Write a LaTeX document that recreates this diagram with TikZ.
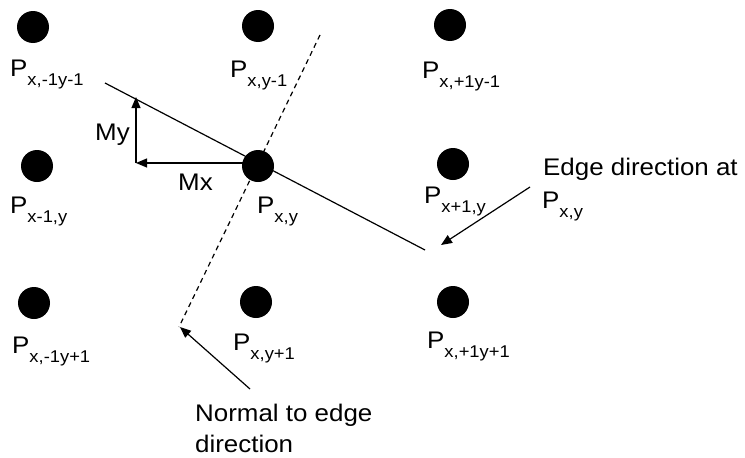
\documentclass[tikz,border=0pt]{standalone}
\usepackage{fontspec}
\setmainfont{Liberation Sans}[FakeStretch=1.08]
\usetikzlibrary{arrows.meta}
\newcommand{\Plab}[1]{P\lower9pt\hbox{\fontsize{17}{17}\selectfont #1}}
\begin{document}
\begin{tikzpicture}[x=1pt,y=-1pt,
  dot/.style={circle,fill=black,inner sep=0pt,minimum size=32pt},
  lab/.style={anchor=base west,inner sep=0pt,font=\fontsize{24}{24}\selectfont},
  ln/.style={line width=1.2pt},
  arr/.style={line width=1.2pt,-{Triangle[length=11pt,width=9pt]}}]
\useasboundingbox (0,0) rectangle (745,458);
% dots
\node[dot] (tl) at (33,27) {};
\node[dot] (tm) at (258,26) {};
\node[dot] (tr) at (450,25) {};
\node[dot] (ml) at (37,166) {};
\node[dot] (pc) at (258,166) {};
\node[dot] (mr) at (453,164) {};
\node[dot] (bl) at (34,303) {};
\node[dot] (bm) at (256,302) {};
\node[dot] (br) at (453,302) {};
% labels
\node[lab] (ltl) at (10,76) {\Plab{x,-1y-1}};
\node[lab] (ltm) at (230,77) {\Plab{x,y-1}};
\node[lab] (ltr) at (422,78) {\Plab{x,+1y-1}};
\node[lab] (lml) at (10,213) {\Plab{x-1,y}};
\node[lab] (lpc) at (257,213) {\Plab{x,y}};
\node[lab] (lmr) at (424,203) {\Plab{x+1,y}};
\node[lab] (lbl) at (12,353) {\Plab{x,-1y+1}};
\node[lab] (lbm) at (233,350) {\Plab{x,y+1}};
\node[lab] (lbr) at (427,348) {\Plab{x,+1y+1}};
% edge line and normal
\coordinate (e1) at (105,83);
\coordinate (e2) at (425,250);
\draw[ln] (e1) -- (e2);
\coordinate (n1) at (320,35);
\coordinate (n2) at (179,327);
\draw[ln,dash pattern=on 5pt off 4pt] (n1) -- (n2);
% Mx / My
\coordinate (mc) at (136,163);
\coordinate (mt) at (136,97);
\coordinate (ms) at (243,163);
\draw[arr] (ms) -- (mc);
\draw[arr] (mc) -- (mt);
\node[lab] (my) at (95,140) {My};
\node[lab] (mx) at (178,190) {Mx};
% edge direction annotation
\node[lab] (ed1) at (543,175) {Edge direction at};
\node[lab] (ed2) at (542,208) {\Plab{x,y}};
\coordinate (ea) at (530,187);
\coordinate (eb) at (441,245);
\draw[arr] (ea) -- (eb);
% normal annotation
\node[lab] (nd1) at (195,421) {Normal to edge};
\node[lab] (nd2) at (195,452) {direction};
\coordinate (na) at (250,389);
\coordinate (nb) at (180,327);
\draw[arr] (na) -- (nb);
\end{tikzpicture}
\end{document}
